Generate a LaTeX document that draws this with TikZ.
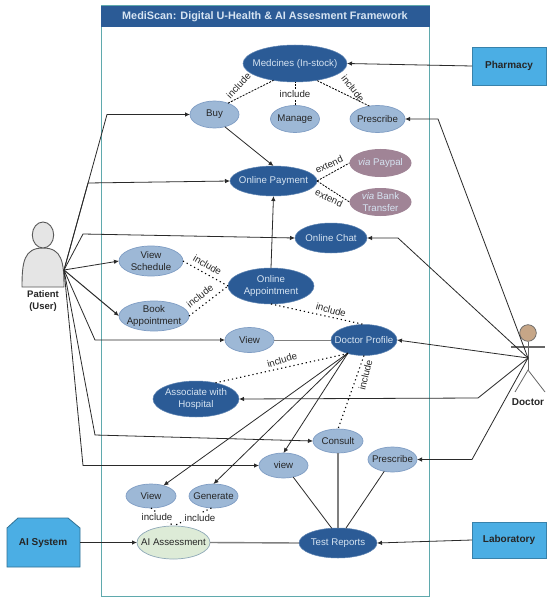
\documentclass[tikz,border=0pt]{standalone}
\usepackage{fontspec}
\setmainfont{Liberation Sans}
\usetikzlibrary{shapes.geometric,arrows.meta}
\definecolor{darkb}{HTML}{2B5B96}
\definecolor{lightb}{HTML}{9DB8D6}
\definecolor{lightedge}{HTML}{7F9DC4}
\definecolor{mauve}{HTML}{A08496}
\definecolor{greenfill}{HTML}{DDEBD7}
\definecolor{greenedge}{HTML}{8FA9B8}
\definecolor{framec}{HTML}{5FA9AD}
\definecolor{actorb}{HTML}{4BAEE4}
\definecolor{lighttext}{HTML}{D6E4F2}
\definecolor{linec}{HTML}{2A2A2A}
\definecolor{greyl}{HTML}{7F7F7F}
\tikzset{
  x=1pt,y=-1pt,
  every node/.style={font=\fontsize{9.7}{12.2}\selectfont,align=center,inner sep=0pt,outer sep=0pt},
  dims/.style 2 args={minimum width=#1pt,minimum height=#2pt},
  uc/.style={ellipse,inner sep=-12pt},
  dk/.style={uc,fill=darkb,draw=lightedge!60!darkb,line width=.5pt,text=lighttext},
  lt/.style={uc,fill=lightb,draw=lightedge,line width=.7pt,text=black!85},
  mv/.style={uc,fill=mauve,text=lighttext},
  gr/.style={uc,fill=greenfill,draw=greenedge,line width=.7pt,text=black!85},
  actorbox/.style={fill=actorb,draw=actorb!75!black,line width=.6pt,font=\fontsize{10}{12}\selectfont\bfseries,text=black!85},
  assoc/.style={draw=linec,line width=.8pt,-{Latex[length=5pt,width=4.5pt]}},
  plainl/.style={draw=linec,line width=.8pt},
  thickg/.style={draw=greyl,line width=1.4pt},
  dashl/.style={draw=black,line width=.8pt,dash pattern=on 2pt off 1.3pt},
  dotl/.style={draw=black,line width=1.1pt,dash pattern=on 1.2pt off 3pt},
  lab/.style={text=black!85},
  labw/.style={text=black!85,fill=white,inner sep=1pt},
}
\begin{document}
\begin{tikzpicture}
\useasboundingbox (0,0) rectangle (550,604);
\fill[white] (0,0) rectangle (550,604);
% frame
\node[draw=framec,line width=1pt,minimum width=328pt,minimum height=590pt,anchor=north west] (frame) at (101,6) {};
\node[fill=darkb,minimum width=329pt,minimum height=21pt,anchor=north west,text=lighttext,font=\fontsize{10.85}{12}\selectfont\bfseries] (title) at (100.5,6) {MediScan: Digital U-Health \& AI Assesment Framework};
% use cases
\node[dk,dims={104}{37}] (med) at (295,63.5) {Medcines (In-stock)};
\node[lt,dims={49}{27}] (buy) at (214.5,114.5) {Buy};
\node[lt,dims={49}{27}] (manage) at (295,119) {Manage};
\node[lt,dims={55}{27}] (prescA) at (377.5,119) {Prescribe};
\node[dk,dims={87}{30}] (pay) at (273.5,181) {Online Payment};
\node[mv,dims={62}{28}] (paypal) at (380.5,163) {\textit{via} Paypal};
\node[mv,dims={62}{28}] (bank) at (380.5,202) {\textit{via} Bank\\Transfer};
\node[dk,dims={72}{30}] (chat) at (331,238) {Online Chat};
\node[lt,dims={64}{30}] (sched) at (151,261) {View\\Schedule};
\node[lt,dims={70}{30}] (book) at (154,316) {Book\\Appointment};
\node[dk,dims={86}{36}] (appt) at (271,286) {Online\\Appointment};
\node[lt,dims={49}{25}] (viewA) at (249.5,340) {View};
\node[dk,dims={66}{31}] (prof) at (364,340) {Doctor Profile};
\node[dk,dims={86}{36}] (hosp) at (196,399) {Associate with\\Hospital};
\node[lt,dims={50}{24}] (consult) at (338,441) {Consult};
\node[lt,dims={49}{25}] (viewB) at (283.5,465.5) {view};
\node[lt,dims={49}{25}] (prescB) at (392.5,459.5) {Prescribe};
\node[lt,dims={50}{24}] (viewC) at (151,496) {View};
\node[lt,dims={49}{24}] (gen) at (213.5,496) {Generate};
\node[gr,dims={73}{33}] (ai) at (173.5,542.5) {AI Assessment};
\node[dk,dims={78}{30}] (test) at (338,543) {Test Reports};
% external boxes
\node[actorbox,minimum width=74pt,minimum height=38pt] (pharm) at (509,66) {Pharmacy};
\node[actorbox,minimum width=74pt,minimum height=36pt] (lab) at (509,540) {Laboratory};
\draw[fill=actorb,draw=actorb!65!black,line width=.8pt] (7,567) -- (7,528) -- (18,518) -- (68,518) -- (80,528) -- (80,567) -- cycle;
\node[font=\fontsize{10}{12}\selectfont\bfseries,text=black!85] (aisys) at (43,543) {AI System};
\coordinate (aiport) at (80,542.5);
% patient
\draw[fill=black!10,draw=black!65,line width=.9pt] (22,287) .. controls (22,262) and (24,248) .. (43,248) .. controls (62,248) and (64,262) .. (64,287) -- cycle;
\draw[fill=black!10,draw=black!65,line width=.9pt] (43,235) ellipse [x radius=10.7,y radius=13];
\node[font=\fontsize{9.5}{12.5}\selectfont\bfseries,text=black!85] (patient) at (43,301) {Patient\\(User)};
\coordinate (pat) at (64,270);
% doctor
\draw[fill=brown!55!white!90!black,draw=black!60,line width=.7pt] (528,333) circle (8.3);
\draw[draw=black!60,line width=.9pt] (528,341.5) -- (528,370);
\draw[draw=black!60,line width=1.1pt] (511,347) -- (545,347);
\draw[draw=black!60,line width=.8pt] (515,392) -- (528,370) -- (545,392);
\node[font=\fontsize{10}{12}\selectfont\bfseries,text=black!85] (doctor) at (528,402) {Doctor};
\coordinate (doc) at (528,358);
% patient waypoints
\coordinate (p1) at (107,114.5);
\coordinate (p2) at (88,183);
\coordinate (p3) at (83,234);
\coordinate (p4) at (95,340);
\coordinate (p5) at (95,435);
\coordinate (p6) at (83,465.5);
\draw[assoc] (pat) -- (p1) -- (buy.west);
\draw[assoc] (pat) -- (p2) -- (pay.west);
\draw[assoc] (pat) -- (p3) -- (chat.west);
\draw[assoc] (pat) -- (sched.west);
\draw[assoc,line width=1pt] (pat) -- (book.west);
\draw[assoc] (pat) -- (p4) -- (viewA.west);
\draw[assoc] (pat) -- (p5) -- (consult.west);
\draw[assoc] (pat) -- (p6) -- (viewB.west);
\draw[assoc] (aiport) -- (ai.west);
% doctor waypoints
\coordinate (d1) at (438,119);
\coordinate (d2) at (398,238);
\coordinate (d3) at (478,398);
\coordinate (d4) at (472,459.5);
\draw[assoc] (pharm.west) -- (med.east);
\draw[assoc] (doc) -- (d1) -- (prescA.east);
\draw[assoc] (doc) -- (d2) -- (chat.east);
\draw[assoc] (doc) -- (prof.east);
\draw[assoc] (doc) -- (d3) -- (hosp.east);
\draw[assoc] (doc) -- (d4) -- (prescB.east);
\draw[assoc] (lab.west) -- (test.east);
% internal
\coordinate (pf) at (348,353);
\draw[assoc] (buy.-50) -- (pay.north);
\draw[assoc] (appt.north) -- (pay.south);
\draw[assoc] (pf) -- (viewC.40);
\draw[assoc] (pf) -- (gen.north);
\draw[assoc] (pf) -- (viewB.north);
\draw[plainl,draw=greyl,line width=1pt] (viewA.east) -- (prof.west);
\draw[plainl] (viewB.-50) -- (test.113);
\draw[thickg] (consult.south) -- (test.north);
\draw[plainl] (prescB.-125) -- (test.62);
\draw[thickg] (ai.east) -- (test.west);
% dashed
\draw[dashl] (buy.40) -- (med.-142);
\draw[dashl] (manage.north) -- (med.south);
\draw[dashl] (prescA.122) -- (med.-38);
\draw[dashl] (pay.east) -- (paypal.west);
\draw[dashl] (pay.east) -- (bank.west);
% dotted
\draw[dotl] (sched.east) -- (appt.west);
\draw[dotl] (book.east) -- (appt.west);
\draw[dotl] (appt.south) -- (prof.north);
\draw[dotl] (prof.-140) -- (hosp.40);
\draw[dotl] (prof.south) -- (consult.north);
\draw[dotl] (viewC.south) -- (ai.north);
\draw[dotl] (gen.-100) -- (ai.north);
% labels
\node[lab,rotate=47] (l1) at (238.5,85.5) {include};
\node[labw] (l2) at (295,94) {include};
\node[lab,rotate=-52] (l3) at (353,88.5) {include};
\node[lab,rotate=25] (l4) at (329,164.5) {extend};
\node[lab,rotate=-25] (l5) at (329,198) {extend};
\node[lab,rotate=-30] (l6) at (207.5,265) {include};
\node[lab,rotate=38] (l7) at (200,296) {include};
\node[lab,rotate=-15] (l8) at (331,310) {include};
\node[lab,rotate=17] (l9) at (282,360) {include};
\node[lab,rotate=76] (l10) at (365.5,375) {include};
\node[labw] (l11) at (157,517) {include};
\node[labw] (l12) at (200,518) {include};
\end{tikzpicture}
\end{document}
